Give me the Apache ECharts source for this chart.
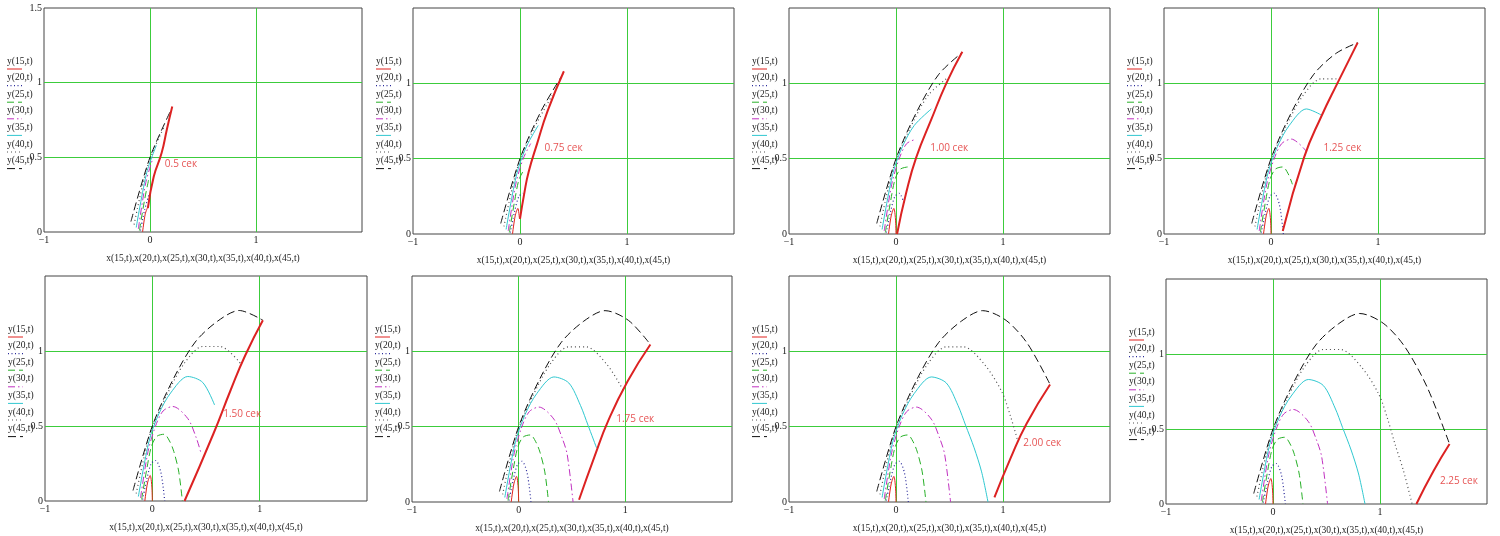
<!DOCTYPE html>
<html><head><meta charset="utf-8">
<script src="https://cdn.jsdelivr.net/npm/echarts@6/dist/echarts.min.js"></script>
<style>html,body{margin:0;padding:0;background:#fff}#c{width:1500px;height:536px}</style>
</head><body><div id="c"></div>
<script>
// ---------- DATA ----------
const seriesNames = ['y(15,t)','y(20,t)','y(25,t)','y(30,t)','y(35,t)','y(40,t)','y(45,t)'];
const xTitle = 'x(15,t),x(20,t),x(25,t),x(30,t),x(35,t),x(40,t),x(45,t)';
const times = [0.5, 0.75, 1.0, 1.25, 1.5, 1.75, 2.0, 2.25];
const timeLabels = ['0.5 сек','0.75 сек','1.00 сек','1.25 сек','1.50 сек','1.75 сек','2.00 сек','2.25 сек'];
const xTicks = [-1, 0, 1, 2];
const xTickLabels = ['\u22121', '0', '1', ''];
const yTicks = [0, 0.5, 1, 1.5];
const yTickLabels = ['0', '0.5', '1', '1.5'];

// trajectories: [t, x, y]
const y15 = [[0,-0.07,0.0],[0.25,-0.045,0.12],[0.5,-0.02,0.17],[0.75,-0.005,0.1],[0.9,0.0,0.0]];
const y20 = [[0,-0.09,0.01],[0.25,-0.05,0.15],[0.5,-0.01,0.25],[0.75,0.03,0.27],[1.0,0.08,0.19],[1.15,0.115,0.0]];
const y25 = [[0,-0.1,0.01],[0.25,-0.05,0.22],[0.5,-0.01,0.36],[0.75,0.04,0.43],[1.0,0.11,0.445],[1.15,0.16,0.40],[1.25,0.2,0.33],[1.38,0.245,0.2],[1.47,0.28,0.0]];
const y30 = [[0,-0.11,0.02],[0.25,-0.04,0.33],[0.5,0.03,0.5],[0.75,0.1,0.6],[1.0,0.19,0.63],[1.25,0.33,0.55],[1.4,0.41,0.42],[1.5,0.455,0.315],[1.72,0.51,0.0]];
const y35 = [[0,-0.13,0.03],[0.25,-0.03,0.4],[0.5,0.06,0.58],[0.75,0.17,0.72],[1.0,0.33,0.83],[1.25,0.47,0.79],[1.5,0.58,0.64],[1.62,0.65,0.51],[1.75,0.73,0.36],[1.85,0.8,0.2],[1.95,0.86,0.0]];
const y40 = [[0,-0.15,0.05],[0.25,-0.02,0.45],[0.5,0.13,0.70],[0.75,0.3,0.92],[1.0,0.47,1.03],[1.25,0.63,1.03],[1.5,0.83,0.91],[1.75,0.99,0.73],[1.87,1.07,0.57],[2.0,1.14,0.40],[2.1,1.22,0.22],[2.2,1.30,0.0]];
const y45 = [[0,-0.18,0.07],[0.25,0.0,0.5],[0.5,0.2,0.82],[0.75,0.4,1.06],[1.0,0.61,1.2],[1.25,0.81,1.27],[1.5,1.03,1.205],[1.75,1.23,1.05],[2.0,1.44,0.78],[2.25,1.65,0.40]];

// isochrones (red thick): [x, y]
const iso050 = [[-0.02,0.16],[0.035,0.37],[0.11,0.53],[0.16,0.69],[0.21,0.84]];
const iso075 = [[0.0,0.1],[0.04,0.27],[0.08,0.41],[0.16,0.6],[0.26,0.82],[0.41,1.08]];
const iso100 = [[0.01,0.0],[0.094,0.27],[0.19,0.51],[0.33,0.76],[0.47,1.0],[0.62,1.21]];
const iso125 = [[0.11,0.02],[0.31,0.51],[0.47,0.78],[0.62,1.0],[0.81,1.27]];
const iso150 = [[0.30,0.0],[0.57,0.45],[0.73,0.74],[0.865,0.97],[1.03,1.205]];
const iso175 = [[0.566,0.015],[0.71,0.3],[0.84,0.54],[1.02,0.8],[1.235,1.045]];
const iso200 = [[0.92,0.03],[1.07,0.29],[1.22,0.52],[1.44,0.78]];
const iso225 = [[1.34,0.0],[1.5,0.22],[1.65,0.40]];

// ---------- LAYOUT / STYLE ----------
const trajectories = [y15, y20, y25, y30, y35, y40, y45];
const isochrones = [iso050, iso075, iso100, iso125, iso150, iso175, iso200, iso225];
const labelAnchor = [[0.14,0.455],[0.23,0.57],[0.32,0.57],[0.49,0.57],[0.66,0.58],[0.915,0.55],[1.19,0.39],[1.56,0.15]];
const grids = [
  {left:44, top:8, width:318, height:224},
  {left:413, top:8, width:321, height:226},
  {left:789, top:8, width:321, height:226},
  {left:1164, top:8, width:321, height:226},
  {left:45, top:276, width:322, height:225},
  {left:412, top:276, width:320, height:226},
  {left:789, top:276, width:321, height:226},
  {left:1166, top:279, width:321, height:225}
];
const styles = [
  {color:'#e0201c', type:'solid', width:1},
  {color:'#2a2a9a', type:[1,2.5], width:1.2},
  {color:'#28b028', type:[7,4], width:1},
  {color:'#c030c0', type:[7,3,1.5,3], width:1},
  {color:'#30c8d0', type:'solid', width:1},
  {color:'#505050', type:[1,3], width:1.2},
  {color:'#101010', type:[8,4], width:1}
];
const serif = 'Liberation Serif, DejaVu Serif, serif';

const chart = echarts.init(document.getElementById('c'), null, {renderer:'canvas'});
const option = {animation:false, backgroundColor:'#fff', grid:[], xAxis:[], yAxis:[], series:[], graphic:[]};

grids.forEach((g, p) => {
  option.grid.push({left:g.left, top:g.top, width:g.width, height:g.height, show:true,
    borderColor:'#444', borderWidth:1, backgroundColor:'transparent', containLabel:false});
  option.xAxis.push({type:'value', gridIndex:p, min:-1, max:2, interval:1,
    axisLine:{show:false}, axisTick:{show:false},
    axisLabel:{margin:3, fontFamily:serif, fontSize:10, color:'#222',
      formatter: v => { const i = xTicks.indexOf(v); return i >= 0 ? xTickLabels[i] : ''; }},
    splitLine:{show:true, showMinLine:false, showMaxLine:false, lineStyle:{color:'#3ccc3c', width:1}},
    name:xTitle, nameLocation:'middle', nameGap:21,
    nameTextStyle:{fontFamily:serif, fontSize:9.5, color:'#222'}});
  option.yAxis.push({type:'value', gridIndex:p, min:0, max:1.5, interval:0.5,
    axisLine:{show:false}, axisTick:{show:false},
    axisLabel:{margin:2, fontFamily:serif, fontSize:10, color:'#222',
      formatter: v => { const i = yTicks.indexOf(v); if (i < 0) return ''; if (v === 1.5 && p !== 0) return ''; return yTickLabels[i]; }},
    splitLine:{show:true, showMinLine:false, showMaxLine:false, lineStyle:{color:'#3ccc3c', width:1}}});

  const T = times[p];
  trajectories.forEach((tr, s) => {
    const d = tr.filter(pt => pt[0] <= T + 1e-9).map(pt => [pt[1], pt[2]]);
    option.series.push({type:'line', xAxisIndex:p, yAxisIndex:p, data:d, smooth:0.3,
      symbol:'none', lineStyle:styles[s], z:3});
  });
  option.series.push({type:'line', xAxisIndex:p, yAxisIndex:p, data:isochrones[p], smooth:0.5,
    symbol:'none', lineStyle:{color:'#dc2222', width:2}, z:5});
  option.series.push({type:'scatter', xAxisIndex:p, yAxisIndex:p, symbolSize:0,
    data:[[labelAnchor[p][0], labelAnchor[p][1], timeLabels[p]]],
    label:{show:true, position:'right', distance:0, formatter: o => o.data[2],
      fontFamily:'Open Sans, Noto Sans, sans-serif', fontSize:10, color:'#e02828'}, z:6});

  // legend (Mathcad-style, left of plot)
  seriesNames.forEach((nm, i) => {
    const x0 = g.left - 37, yc = g.top + 54 + i * 16.6;
    option.graphic.push({type:'text', left:x0, top:yc - 6, silent:true,
      style:{text:nm, font:'9.5px ' + serif, fill:'#222'}});
    const st = styles[i];
    option.graphic.push({type:'line', silent:true,
      shape:{x1:x0, y1:yc + 7, x2:x0 + 15, y2:yc + 7},
      style:{stroke:st.color, lineWidth:st.width, lineDash: st.type === 'solid' ? null : st.type}});
  });
});

chart.setOption(option);
</script>
</body></html>
